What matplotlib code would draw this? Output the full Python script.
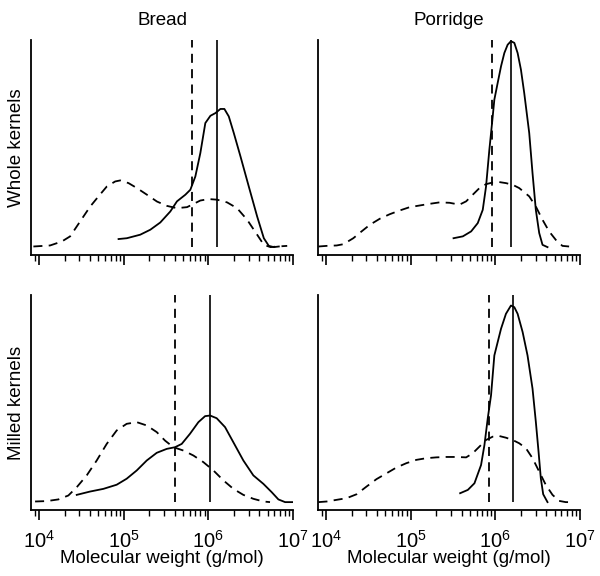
import numpy as np
import matplotlib
matplotlib.use("Agg")
import matplotlib.pyplot as plt
from matplotlib.ticker import LogLocator, NullFormatter

plt.rcParams['font.family'] = ['Liberation Sans', 'DejaVu Sans']
plt.rcParams['mathtext.fontset'] = 'custom'
plt.rcParams['mathtext.rm'] = 'Liberation Sans'
plt.rcParams['mathtext.it'] = 'Liberation Sans'

# log10 molecular weight / relative signal

# Bread, whole kernels
bw_dash_x = [3.933, 4.130, 4.268, 4.367, 4.485, 4.604, 4.702, 4.801, 4.899, 4.959, 5.057, 5.156,
             5.274, 5.393, 5.511, 5.629, 5.748, 5.807, 5.905, 6.004, 6.103, 6.221, 6.339, 6.458,
             6.576, 6.655, 6.734, 6.813, 6.931]
bw_dash_y = [0.3, 0.8, 2.7, 5.2, 12.4, 19.6, 24.5, 29.3, 31.7, 32.2, 30.9, 28.5,
             25.3, 22.0, 19.9, 18.8, 19.3, 20.5, 22.5, 23.2, 22.9, 21.6, 18.8, 13.2,
             6.0, 1.1, 0.0, 0.3, 0.6]
bw_solid_x = [4.939, 5.037, 5.195, 5.314, 5.432, 5.550, 5.629, 5.728, 5.787, 5.846, 5.905, 5.964,
              6.024, 6.083, 6.142, 6.189, 6.241, 6.300, 6.379, 6.477, 6.576, 6.655, 6.714, 6.773,
              6.832]
bw_solid_y = [3.9, 4.3, 6.0, 8.4, 11.9, 17.2, 22.1, 25.3, 27.7, 34.1, 45.4, 59.9,
              63.4, 64.7, 66.7, 66.7, 63.1, 55.1, 43.8, 29.3, 14.8, 4.3, 0.6, 0.0,
              0.3]
bw_vlines = [5.81, 6.107]

# Porridge, whole kernels
pw_dash_x = [3.910, 4.008, 4.125, 4.204, 4.322, 4.420, 4.518, 4.635, 4.753, 4.871, 4.988, 5.106,
             5.224, 5.341, 5.459, 5.576, 5.655, 5.733, 5.812, 5.890, 5.969, 6.047, 6.125, 6.204,
             6.282, 6.400, 6.478, 6.557, 6.635, 6.714, 6.792, 6.871]
pw_dash_y = [0.3, 0.6, 0.8, 1.4, 4.3, 7.6, 10.8, 13.7, 15.9, 17.7, 19.3, 20.1,
             20.9, 21.6, 21.4, 20.5, 22.1, 25.3, 28.5, 30.4, 31.2, 31.4, 30.9, 30.1,
             28.5, 24.5, 19.6, 13.2, 7.6, 3.5, 0.6, 0.3]
pw_solid_x = [5.506, 5.616, 5.714, 5.792, 5.851, 5.890, 5.929, 5.961, 5.988, 6.027, 6.067, 6.106,
              6.145, 6.184, 6.224, 6.263, 6.302, 6.341, 6.400, 6.439, 6.478, 6.518, 6.557, 6.616]
pw_solid_y = [4.3, 5.2, 7.6, 11.6, 18.0, 29.3, 47.0, 59.9, 71.2, 79.2, 87.3, 93.7,
              97.7, 99.4, 98.6, 93.7, 85.7, 74.4, 55.1, 35.7, 18.0, 6.8, 1.1, 0.0]
pw_vlines = [5.961, 6.184]

# Bread, milled kernels
bm_dash_x = [3.953, 4.091, 4.228, 4.346, 4.445, 4.563, 4.681, 4.799, 4.917, 5.035, 5.154, 5.272,
             5.390, 5.488, 5.587, 5.705, 5.823, 5.941, 6.059, 6.177, 6.295, 6.413, 6.531, 6.650,
             6.728]
bm_dash_y = [0.3, 0.5, 1.3, 3.2, 7.2, 12.9, 20.1, 28.1, 34.6, 37.8, 38.6, 37.0,
             33.8, 29.7, 26.5, 24.9, 22.5, 19.3, 15.3, 10.5, 6.4, 3.5, 1.6, 0.3,
             0.0]
bm_solid_x = [4.445, 4.602, 4.760, 4.917, 5.035, 5.154, 5.272, 5.390, 5.508, 5.606, 5.685, 5.783,
              5.882, 5.961, 6.020, 6.098, 6.197, 6.295, 6.413, 6.531, 6.650, 6.748, 6.827, 6.906,
              7.004]
bm_solid_y = [3.5, 5.1, 6.4, 8.4, 11.3, 15.3, 20.1, 23.8, 25.7, 26.5, 28.1, 33.0,
              38.6, 41.5, 41.8, 40.5, 36.2, 28.9, 20.1, 12.9, 8.8, 4.8, 1.3, 0.0,
              0.0]
bm_vlines = [5.606, 6.020]

# Porridge, milled kernels
pm_dash_x = [3.910, 4.008, 4.125, 4.243, 4.361, 4.478, 4.596, 4.714, 4.831, 4.949, 5.067, 5.184,
             5.302, 5.420, 5.537, 5.655, 5.733, 5.812, 5.890, 5.969, 6.047, 6.125, 6.204, 6.282,
             6.361, 6.439, 6.518, 6.596, 6.675, 6.753, 6.831, 6.910]
pm_dash_y = [0.0, 0.3, 1.1, 1.9, 3.8, 7.5, 11.1, 13.9, 16.7, 18.8, 20.4, 21.2,
             21.6, 21.8, 21.8, 21.6, 23.6, 26.8, 30.0, 31.6, 31.9, 31.1, 30.0, 28.4,
             26.0, 21.2, 14.7, 8.3, 3.5, 0.6, 0.0, 0.0]
pm_solid_x = [5.584, 5.675, 5.753, 5.831, 5.871, 5.910, 5.949, 5.988, 6.027, 6.067, 6.125, 6.184,
              6.224, 6.263, 6.322, 6.380, 6.439, 6.478, 6.510, 6.537, 6.565, 6.616]
pm_solid_y = [4.3, 5.9, 9.1, 17.9, 27.6, 40.4, 51.6, 70.8, 77.2, 83.7, 90.9, 94.9,
              94.1, 90.9, 82.1, 70.8, 54.8, 38.8, 24.4, 11.5, 3.8, 0.0]
pm_vlines = [5.929, 6.204]

panels = [
    (bw_dash_x, bw_dash_y, bw_solid_x, bw_solid_y, bw_vlines),
    (pw_dash_x, pw_dash_y, pw_solid_x, pw_solid_y, pw_vlines),
    (bm_dash_x, bm_dash_y, bm_solid_x, bm_solid_y, bm_vlines),
    (pm_dash_x, pm_dash_y, pm_solid_x, pm_solid_y, pm_vlines),
]
col_titles = ['Bread', 'Porridge']
row_titles = ['Whole kernels', 'Milled kernels']

fig = plt.figure(figsize=(6, 5.76), dpi=100)
lefts = [0.0517, 0.53]
bottoms = [0.5573, 0.1146]
w, h = 0.4367, 0.3733
dash = (0, (5, 3.5))

for i, (dx, dy, sx, sy, vl) in enumerate(panels):
    r, c = divmod(i, 2)
    ax = fig.add_axes([lefts[c], bottoms[r], w, h])
    ax.plot(10 ** np.array(dx), dy, color='black', lw=1.3, linestyle=dash)
    ax.plot(10 ** np.array(sx), sy, color='black', lw=1.3)
    ax.vlines(10 ** vl[0], 0, 100, color='black', lw=1.3, linestyle=dash)
    ax.vlines(10 ** vl[1], 0, 100, color='black', lw=1.2)
    ax.set_xscale('log')
    ax.set_xlim(10 ** 3.905, 1e7)
    ax.set_ylim(-3.8, 100)
    for s in ['top', 'right']:
        ax.spines[s].set_visible(False)
    ax.spines['left'].set_linewidth(1.3)
    ax.spines['bottom'].set_linewidth(1.3)
    ax.set_yticks([])
    ax.xaxis.set_major_locator(LogLocator(base=10, numticks=10))
    ax.xaxis.set_minor_locator(LogLocator(base=10, subs=np.arange(2, 10), numticks=20))
    ax.xaxis.set_minor_formatter(NullFormatter())
    ax.tick_params(axis='x', which='major', length=7, width=1.2, labelsize=14.5, pad=7)
    ax.tick_params(axis='x', which='minor', length=4.3, width=1.0)
    if r == 0:
        ax.set_title(col_titles[c], fontsize=13.5, pad=11)
        ax.set_xticklabels([])
    else:
        ax.set_xticks([1e4, 1e5, 1e6, 1e7])
        ax.set_xticklabels(['$10^{4}$', '$10^{5}$', '$10^{6}$', '$10^{7}$'])
        ax.set_xlabel('Molecular weight (g/mol)', fontsize=13.5, labelpad=-1)
    if c == 0:
        ax.set_ylabel(row_titles[r], fontsize=13.5, labelpad=4)

fig.savefig('out.png', dpi=100)
